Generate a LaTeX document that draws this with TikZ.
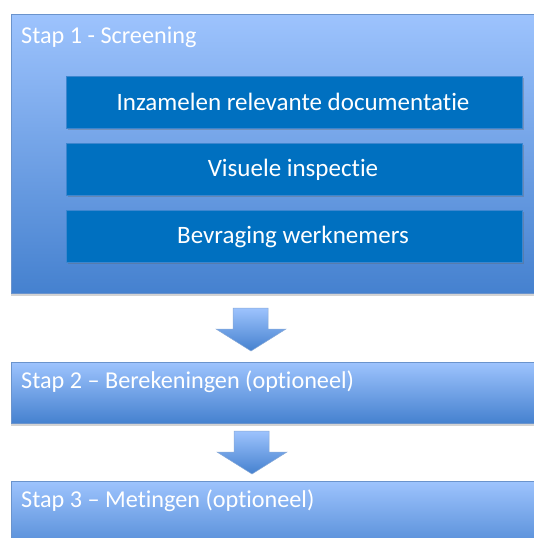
\documentclass[tikz,border=0pt]{standalone}
\usepackage{fontspec}
\setmainfont{Carlito}[Ligatures=NoCommon]
\usetikzlibrary{shadows}
\definecolor{gtop}{HTML}{9DC3FD}
\definecolor{gbot}{HTML}{4581CF}
\definecolor{gedge}{HTML}{6A93CC}
\definecolor{inner}{HTML}{0070C0}
\definecolor{inedge}{HTML}{3D86CF}
\tikzset{
  stapbox/.style={rectangle, draw=gedge, line width=0.8pt, top color=gtop, bottom color=gbot,
    anchor=north west, inner sep=0pt,
    drop shadow={shadow xshift=0pt, shadow yshift=-2.5pt, opacity=0.35, fill=gray}},
  taskbox/.style={rectangle, draw=inedge, line width=0.6pt, fill=inner, anchor=north west, inner sep=0pt,
    minimum width=456pt, minimum height=52pt,
    drop shadow={shadow xshift=1.5pt, shadow yshift=-1.5pt, opacity=0.35, fill=black!60}},
  headtxt/.style={anchor=base west, text=white, font=\fontsize{24.2pt}{26pt}\selectfont, inner sep=0pt},
  tasktxt/.style={anchor=base, text=white, font=\fontsize{25pt}{27pt}\selectfont, inner sep=0pt},
  blockarrow/.style={draw=gedge!80, line width=0.5pt, top color=gtop, bottom color=gbot}
}
\begin{document}
\begin{tikzpicture}[x=1pt,y=1pt]
\useasboundingbox (0,0) rectangle (534,-538);
\clip (0,0) rectangle (534,-538);
% Stap 1
\node[stapbox, minimum width=540pt, minimum height=279pt] (s1) at (11,-14) {};
\node[headtxt] (h1) at (21,-43) {Stap 1 - Screening};
\node[taskbox] (t1) at (66,-76) {};
\node[tasktxt] (l1) at (293,-110) {Inzamelen relevante documentatie};
\node[taskbox] (t2) at (66,-143) {};
\node[tasktxt] (l2) at (293,-176) {Visuele inspectie};
\node[taskbox] (t3) at (66,-210) {};
\node[tasktxt] (l3) at (293,-243) {Bevraging werknemers};
% Arrow 1
\path[blockarrow] (233,-308) -- (268,-308) -- (268,-329) -- (286,-329) -- (251,-351) -- (216,-329) -- (233,-329) -- cycle;
% Stap 2
\node[stapbox, minimum width=540pt, minimum height=61pt] (s2) at (11,-362) {};
\node[headtxt] (h2) at (21,-388) {Stap 2 – Berekeningen (optioneel)};
% Arrow 2
\path[blockarrow] (234,-431) -- (269,-431) -- (269,-452) -- (287,-452) -- (252,-474) -- (217,-452) -- (234,-452) -- cycle;
% Stap 3
\node[stapbox, minimum width=540pt, minimum height=80pt] (s3) at (11,-481) {};
\node[headtxt] (h3) at (21,-507) {Stap 3 – Metingen (optioneel)};
\end{tikzpicture}
\end{document}
